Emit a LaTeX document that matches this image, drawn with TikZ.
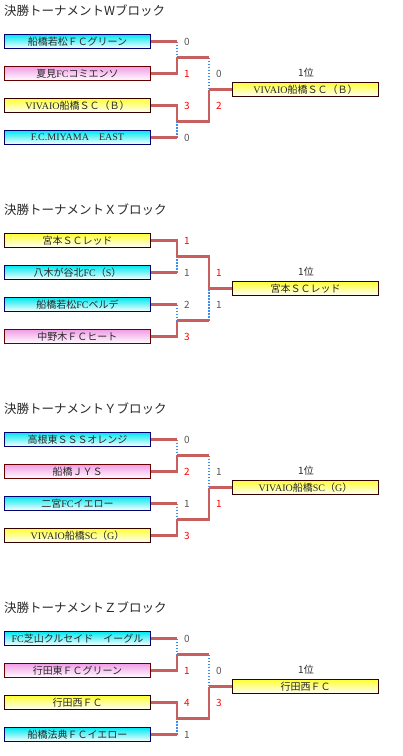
\documentclass[tikz,border=0pt]{standalone}
\usepackage{fontspec}
\setmainfont{Noto Sans CJK JP}
\newfontfamily\latnfont{Liberation Serif}
\newcommand\lt[1]{{\latnfont #1}}
\usetikzlibrary{backgrounds}
\definecolor{cyanT}{RGB}{0,232,240}
\definecolor{pinkT}{RGB}{240,156,230}
\definecolor{yelT}{RGB}{255,255,51}
\definecolor{navyB}{RGB}{0,0,110}
\definecolor{maroonB}{RGB}{102,0,0}
\definecolor{darkB}{RGB}{51,0,0}
\definecolor{lineR}{RGB}{200,95,95}
\definecolor{dotB}{RGB}{60,140,240}
\definecolor{winR}{RGB}{255,0,0}
\definecolor{loseG}{RGB}{85,85,85}
\definecolor{txtG}{RGB}{40,40,40}
\tikzset{
  team/.style={draw, line width=1pt, minimum width=146pt, minimum height=14pt, inner sep=0pt,
    font=\fontsize{10}{10}\selectfont, text=txtG},
  cy/.style={team, draw=navyB, top color=cyanT, bottom color=white},
  pk/.style={team, draw=maroonB, top color=pinkT, bottom color=white},
  ye/.style={team, draw=darkB, top color=yelT, bottom color=white},
  win/.style={line width=2.5pt, draw=lineR, line cap=square},
  lose/.style={line width=1.8pt, draw=dotB, dash pattern=on 1.5pt off 1.5pt},
  sw/.style={inner sep=0pt, text=winR, font=\fontsize{10}{10}\selectfont},
  sl/.style={inner sep=0pt, text=loseG, font=\fontsize{10}{10}\selectfont},
  rk/.style={inner sep=0pt, text=txtG, font=\fontsize{10}{10}\selectfont},
  ttl/.style={anchor=west, inner sep=0pt, text=txtG, font=\fontsize{12.5}{12.5}\selectfont},
}
\newcommand\match[3]{%
  \draw[lose] (#2 -| #3) -- (#3);
  \draw[win] (#2) -- (#2 -| #3);
  \draw[win] (#1) -- (#1 -| #3) -- (#3);
}
\begin{document}
\begin{tikzpicture}[x=1pt,y=-1pt]
\useasboundingbox (0,0) rectangle (403,756);
% ---------------- W block
\begin{scope}
\node[ttl] (wt) at (4,11) {決勝トーナメントWブロック};
\node[cy] (w1) at (77.5,41.5) {船橋若松ＦＣグリーン};
\node[pk] (w2) at (77.5,73.5) {夏見\lt{FC}コミエンソ};
\node[ye] (w3) at (77.5,105.5) {\lt{VIVAIO}船橋ＳＣ（Ｂ）};
\node[cy] (w4) at (77.5,137.5) {\lt{F.C.MIYAMA}　\lt{EAST}};
\node[ye] (wf) at (305.5,89.5) {\lt{VIVAIO}船橋ＳＣ（Ｂ）};
\node[rk] (wr) at (306,73) {1位};
\coordinate (wj1) at (177,57.5);
\coordinate (wj2) at (177,121.5);
\coordinate (wk) at (209,89.5);
\node[sl] (ws1) at (187,41.5) {0};
\node[sw] (ws2) at (187,73.5) {1};
\node[sw] (ws3) at (187,105.5) {3};
\node[sl] (ws4) at (187,137.5) {0};
\node[sl] (ws5) at (219,73.5) {0};
\node[sw] (ws6) at (219,105.5) {2};
\begin{scope}[on background layer]
\match{w2.east}{w1.east}{wj1}
\match{w3.east}{w4.east}{wj2}
\match{wj2}{wj1}{wk}
\draw[win] (wk) -- (wf.west);
\end{scope}
\end{scope}
% ---------------- X block
\begin{scope}[shift={(0,199)}]
\node[ttl] (xt) at (4,11) {決勝トーナメントＸブロック};
\node[ye] (x1) at (77.5,41.5) {宮本ＳＣレッド};
\node[cy] (x2) at (77.5,73.5) {八木が谷北\lt{FC}（\lt{S}）};
\node[cy] (x3) at (77.5,105.5) {船橋若松\lt{FC}ベルデ};
\node[pk] (x4) at (77.5,137.5) {中野木ＦＣヒート};
\node[ye] (xf) at (305.5,89.5) {宮本ＳＣレッド};
\node[rk] (xr) at (306,73) {1位};
\coordinate (xj1) at (177,57.5);
\coordinate (xj2) at (177,121.5);
\coordinate (xk) at (209,89.5);
\node[sw] (xs1) at (187,41.5) {1};
\node[sl] (xs2) at (187,73.5) {1};
\node[sl] (xs3) at (187,105.5) {2};
\node[sw] (xs4) at (187,137.5) {3};
\node[sw] (xs5) at (219,73.5) {1};
\node[sl] (xs6) at (219,105.5) {1};
\begin{scope}[on background layer]
\match{x1.east}{x2.east}{xj1}
\match{x4.east}{x3.east}{xj2}
\match{xj1}{xj2}{xk}
\draw[win] (xk) -- (xf.west);
\end{scope}
\end{scope}
% ---------------- Y block
\begin{scope}[shift={(0,398)}]
\node[ttl] (yt) at (4,11) {決勝トーナメントＹブロック};
\node[cy] (y1) at (77.5,41.5) {高根東ＳＳＳオレンジ};
\node[pk] (y2) at (77.5,73.5) {船橋ＪＹＳ};
\node[cy] (y3) at (77.5,105.5) {二宮\lt{FC}イエロー};
\node[ye] (y4) at (77.5,137.5) {\lt{VIVAIO}船橋\lt{SC}（\lt{G}）};
\node[ye] (yf) at (305.5,89.5) {\lt{VIVAIO}船橋\lt{SC}（\lt{G}）};
\node[rk] (yr) at (306,73) {1位};
\coordinate (yj1) at (177,57.5);
\coordinate (yj2) at (177,121.5);
\coordinate (yk) at (209,89.5);
\node[sl] (ys1) at (187,41.5) {0};
\node[sw] (ys2) at (187,73.5) {2};
\node[sl] (ys3) at (187,105.5) {1};
\node[sw] (ys4) at (187,137.5) {3};
\node[sl] (ys5) at (219,73.5) {1};
\node[sw] (ys6) at (219,105.5) {1};
\begin{scope}[on background layer]
\match{y2.east}{y1.east}{yj1}
\match{y4.east}{y3.east}{yj2}
\match{yj2}{yj1}{yk}
\draw[win] (yk) -- (yf.west);
\end{scope}
\end{scope}
% ---------------- Z block
\begin{scope}[shift={(0,597)}]
\node[ttl] (zt) at (4,11) {決勝トーナメントＺブロック};
\node[cy] (z1) at (77.5,41.5) {\lt{FC}芝山クルセイド　イーグル};
\node[pk] (z2) at (77.5,73.5) {行田東ＦＣグリーン};
\node[ye] (z3) at (77.5,105.5) {行田西ＦＣ};
\node[cy] (z4) at (77.5,137.5) {船橋法典ＦＣイエロー};
\node[ye] (zf) at (305.5,89.5) {行田西ＦＣ};
\node[rk] (zr) at (306,73) {1位};
\coordinate (zj1) at (177,57.5);
\coordinate (zj2) at (177,121.5);
\coordinate (zk) at (209,89.5);
\node[sl] (zs1) at (187,41.5) {0};
\node[sw] (zs2) at (187,73.5) {1};
\node[sw] (zs3) at (187,105.5) {4};
\node[sl] (zs4) at (187,137.5) {1};
\node[sl] (zs5) at (219,73.5) {0};
\node[sw] (zs6) at (219,105.5) {3};
\begin{scope}[on background layer]
\match{z2.east}{z1.east}{zj1}
\match{z3.east}{z4.east}{zj2}
\match{zj2}{zj1}{zk}
\draw[win] (zk) -- (zf.west);
\end{scope}
\end{scope}
\end{tikzpicture}
\end{document}
